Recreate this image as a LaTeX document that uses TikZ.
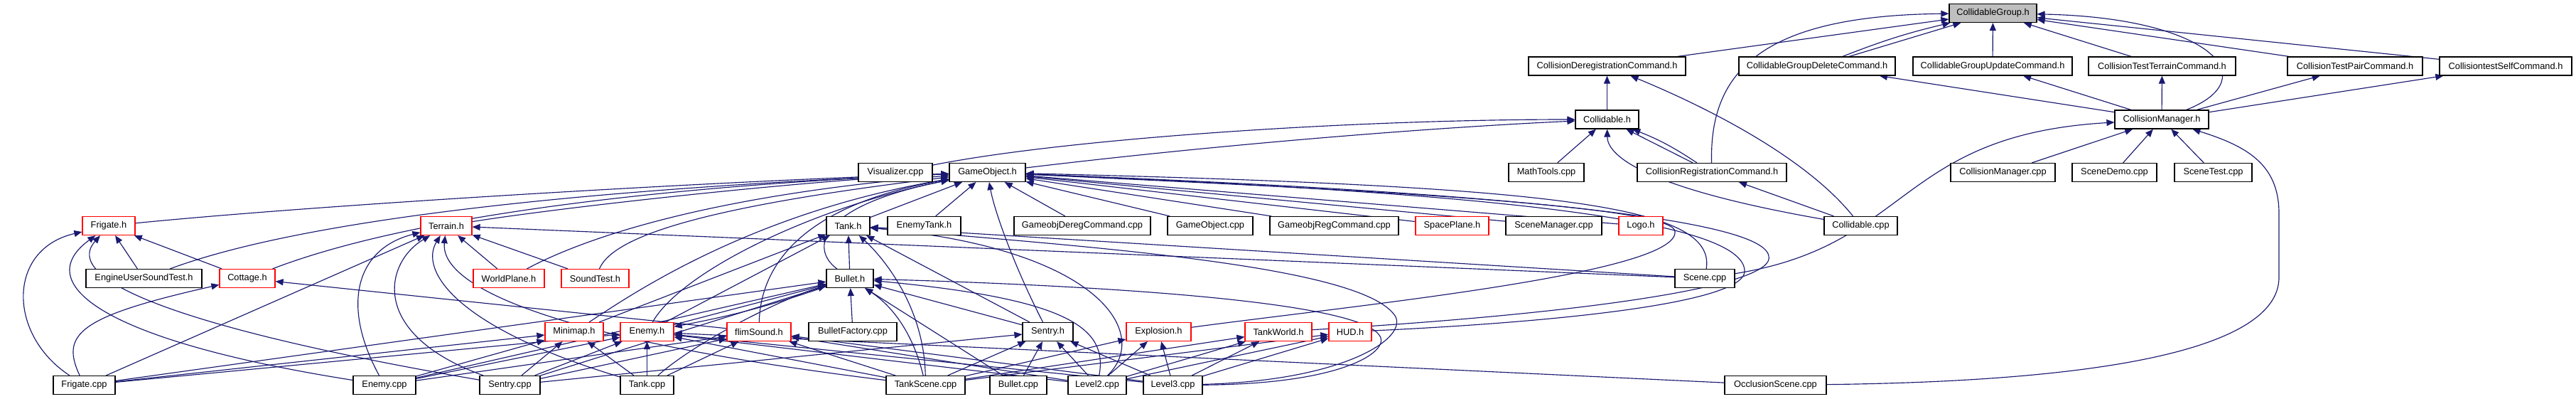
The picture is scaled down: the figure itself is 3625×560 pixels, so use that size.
\documentclass[tikz,border=0pt]{standalone}
\usepackage{fontspec}
\setmainfont{Liberation Sans}
\usetikzlibrary{arrows.meta,backgrounds}
\definecolor{edgecol}{HTML}{191970}
\definecolor{rootfill}{HTML}{BFBFBF}
\tikzset{
  box/.style={draw=black, line width=1.2pt, fill=white, minimum height=26pt, inner sep=0pt,
    font=\fontsize{12.8}{14}\selectfont},
  redbox/.style={box, draw=red},
  rootbox/.style={box, fill=rootfill},
  dep/.style={draw=edgecol, line width=1.15pt, -{Triangle[length=11pt,width=9pt]}},
}
\begin{document}
\begin{tikzpicture}[x=1pt,y=-1pt]
\useasboundingbox (0,0) rectangle (3625,560);
% rank 0
\node[rootbox, minimum width=123] (CG) at (2804.5,18.5) {CollidableGroup.h};
% rank 1
\node[box, minimum width=221] (CDC) at (2261.5,93) {CollisionDeregistrationCommand.h};
\node[box, minimum width=220] (CGDC) at (2557,93) {CollidableGroupDeleteCommand.h};
\node[box, minimum width=224] (CGUC) at (2804,93) {CollidableGroupUpdateCommand.h};
\node[box, minimum width=207] (CTTC) at (3042.5,93) {CollisionTestTerrainCommand.h};
\node[box, minimum width=190] (CTPC) at (3314,93) {CollisionTestPairCommand.h};
\node[box, minimum width=186] (CTSC) at (3526,93) {CollisiontestSelfCommand.h};
% rank 2
\node[box, minimum width=89] (Collidableh) at (2261.5,168) {Collidable.h};
\node[box, minimum width=132] (CMh) at (3042,168) {CollisionManager.h};
% rank 3
\node[box, minimum width=104] (Visualizer) at (1260,242.5) {Visualizer.cpp};
\node[box, minimum width=107] (GOh) at (1389.5,242.5) {GameObject.h};
\node[box, minimum width=106] (MathTools) at (2176,242.5) {MathTools.cpp};
\node[box, minimum width=210] (CRC) at (2409,242.5) {CollisionRegistrationCommand.h};
\node[box, minimum width=147] (CMcpp) at (2818.5,242.5) {CollisionManager.cpp};
\node[box, minimum width=119] (SceneDemo) at (2975.5,242.5) {SceneDemo.cpp};
\node[box, minimum width=109] (SceneTest) at (3114.5,242.5) {SceneTest.cpp};
% rank 4
\node[redbox, minimum width=74] (Frigateh) at (153,317.5) {Frigate.h};
\node[redbox, minimum width=72] (Terrainh) at (628,317.5) {Terrain.h};
\node[box, minimum width=61] (Tankh) at (1193.5,317.5) {Tank.h};
\node[box, minimum width=103] (EnemyTank) at (1300.5,317.5) {EnemyTank.h};
\node[box, minimum width=192] (GDC) at (1523,317.5) {GameobjDeregCommand.cpp};
\node[box, minimum width=120] (GOcpp) at (1703,317.5) {GameObject.cpp};
\node[box, minimum width=181] (GRC) at (1877.5,317.5) {GameobjRegCommand.cpp};
\node[redbox, minimum width=103] (SpacePlane) at (2043.5,317.5) {SpacePlane.h};
\node[box, minimum width=135] (SceneMgr) at (2186.5,317.5) {SceneManager.cpp};
\node[redbox, minimum width=62] (Logo) at (2309,317.5) {Logo.h};
\node[box, minimum width=103] (Collidablecpp) at (2618.5,317.5) {Collidable.cpp};
% rank 5
\node[box, minimum width=163] (EUST) at (202.5,391.5) {EngineUserSoundTest.h};
\node[redbox, minimum width=78] (Cottage) at (348,391.5) {Cottage.h};
\node[redbox, minimum width=100] (WorldPlane) at (716,391.5) {WorldPlane.h};
\node[redbox, minimum width=95] (SoundTest) at (837.5,391.5) {SoundTest.h};
\node[box, minimum width=66] (Bulleth) at (1196,391.5) {Bullet.h};
\node[box, minimum width=84] (Scenecpp) at (2399,391.5) {Scene.cpp};
% rank 6
\node[redbox, minimum width=82] (Minimap) at (808,466.5) {Minimap.h};
\node[redbox, minimum width=75] (Enemyh) at (910.5,466.5) {Enemy.h};
\node[redbox, minimum width=90] (flimSound) at (1068,466.5) {flimSound.h};
\node[box, minimum width=124] (BulletFactory) at (1200,466.5) {BulletFactory.cpp};
\node[box, minimum width=71] (Sentryh) at (1474.5,466.5) {Sentry.h};
\node[redbox, minimum width=91] (Explosion) at (1630.5,466.5) {Explosion.h};
\node[redbox, minimum width=94] (TankWorld) at (1799,466.5) {TankWorld.h};
\node[redbox, minimum width=60] (HUD) at (1900,466.5) {HUD.h};
% rank 7
\node[box, minimum width=87] (Frigatecpp) at (118.5,541.5) {Frigate.cpp};
\node[box, minimum width=88] (Enemycpp) at (541,541.5) {Enemy.cpp};
\node[box, minimum width=85] (Sentrycpp) at (717.5,541.5) {Sentry.cpp};
\node[box, minimum width=75] (Tankcpp) at (910.5,541.5) {Tank.cpp};
\node[box, minimum width=111] (TankScene) at (1302.5,541.5) {TankScene.cpp};
\node[box, minimum width=80] (Bulletcpp) at (1433,541.5) {Bullet.cpp};
\node[box, minimum width=82] (Level2) at (1544,541.5) {Level2.cpp};
\node[box, minimum width=83] (Level3) at (1650.5,541.5) {Level3.cpp};
\node[box, minimum width=143] (Occlusion) at (2498.5,541.5) {OcclusionScene.cpp};

\begin{pgfonlayer}{background}
% ---- top part
\draw[dep] (CDC) -- (CG);
\draw[dep] (CGDC) -- (CG);
\draw[dep] (CGDC) to[bend left=4] (CG);
\draw[dep] (CGUC) -- (CG);
\draw[dep] (CTTC) -- (CG);
\draw[dep] (CTPC) -- (CG);
\draw[dep] (CTSC) -- (CG);
\draw[dep] (CRC) .. controls (2405,100) and (2480,22) .. (CG);
\draw[dep] (CMh) .. controls (3190,110) and (3110,25) .. (CG);
\draw[dep] (Collidableh) -- (CDC);
\draw[dep] (Collidablecpp) .. controls (2540,220) and (2400,150) .. (CDC);
\draw[dep] (CMh) -- (CGDC);
\draw[dep] (CMh) -- (CGUC);
\draw[dep] (CMh) -- (CTTC);
\draw[dep] (CMh) -- (CTPC);
\draw[dep] (CMh) -- (CTSC);
\draw[dep] (GOh) .. controls (1700,205) and (2000,180) .. (Collidableh);
\draw[dep] (Visualizer) .. controls (1500,195) and (1900,168) .. (Collidableh);
\draw[dep] (MathTools) -- (Collidableh);
\draw[dep] (CRC) -- (Collidableh);
\draw[dep] (CRC) to[bend right=6] (Collidableh);
\draw[dep] (Collidablecpp) .. controls (2300,262) and (2262,215) .. (Collidableh);
\draw[dep] (Collidablecpp) -- (CRC);
\draw[dep] (CMcpp) -- (CMh);
\draw[dep] (SceneDemo) -- (CMh);
\draw[dep] (SceneTest) -- (CMh);
\draw[dep] (Scenecpp) .. controls (2690,345) and (2670,190) .. (CMh);
\draw[dep] (Occlusion) .. controls (3050,535) and (3207,470) .. (3207,390) -- (3207,300) .. controls (3207,230) and (3160,205) .. (CMh);
% ---- GameObject.h
\draw[dep] (Frigateh) .. controls (450,288) and (1000,255) .. (GOh);
\draw[dep] (Terrainh) .. controls (800,290) and (1150,252) .. (GOh);
\draw[dep] (Cottage) .. controls (600,295) and (1000,258) .. (GOh);
\draw[dep] (EUST) .. controls (450,300) and (900,262) .. (GOh);
\draw[dep] (WorldPlane) .. controls (850,320) and (1050,270) .. (GOh);
\draw[dep] (SoundTest) .. controls (860,340) and (950,295) .. (GOh);
\draw[dep] (Tankh) -- (GOh);
\draw[dep] (EnemyTank) -- (GOh);
\draw[dep] (GDC) -- (GOh);
\draw[dep] (GOcpp) -- (GOh);
\draw[dep] (GRC) -- (GOh);
\draw[dep] (SpacePlane) -- (GOh);
\draw[dep] (SceneMgr) -- (GOh);
\draw[dep] (Logo) -- (GOh);
\draw[dep] (Bulleth) .. controls (1140,350) and (1150,290) .. (GOh);
\draw[dep] (Enemyh) .. controls (960,380) and (1150,290) .. (GOh);
\draw[dep] (Minimap) .. controls (880,420) and (1050,300) .. (GOh);
\draw[dep] (flimSound) .. controls (1070,380) and (1120,290) .. (GOh);
\draw[dep] (Sentryh) .. controls (1430,380) and (1400,300) .. (GOh);
\draw[dep] (Scenecpp) .. controls (2415,290) and (2200,262) .. (GOh);
\draw[dep] (Explosion) .. controls (1900,430) and (2365,385) .. (2357,325) .. controls (2352,285) and (1800,262) .. (GOh);
\draw[dep] (HUD) .. controls (2250,450) and (2460,420) .. (2455,380) .. controls (2450,300) and (2000,268) .. (GOh);
\draw[dep] (TankWorld) .. controls (2250,440) and (2500,400) .. (2489,360) .. controls (2480,300) and (2000,266) .. (GOh);
% ---- Frigate.h / Cottage.h
\draw[dep] (Frigatecpp) .. controls (10,470) and (10,350) .. (Frigateh);
\draw[dep] (Enemycpp) .. controls (150,480) and (40,400) .. (Frigateh);
\draw[dep] (Sentrycpp) .. controls (300,470) and (80,400) .. (Frigateh);
\draw[dep] (EUST) -- (Frigateh);
\draw[dep] (Cottage) -- (Frigateh);
\draw[dep] (Frigatecpp) .. controls (85,470) and (110,445) .. (Cottage);
\draw[dep] (flimSound) -- (Cottage);
% ---- Terrain.h
\draw[dep] (Frigatecpp) -- (Terrainh);
\draw[dep] (Enemycpp) .. controls (480,430) and (500,350) .. (Terrainh);
\draw[dep] (Sentrycpp) .. controls (520,470) and (540,370) .. (Terrainh);
\draw[dep] (Tankcpp) .. controls (640,460) and (590,380) .. (Terrainh);
\draw[dep] (TankScene) .. controls (720,470) and (620,390) .. (Terrainh);
\draw[dep] (WorldPlane) -- (Terrainh);
\draw[dep] (SoundTest) -- (Terrainh);
\draw[dep] (Scenecpp) -- (Terrainh);
% ---- Tank.h
\draw[dep] (Bulleth) -- (Tankh);
\draw[dep] (Enemyh) -- (Tankh);
\draw[dep] (Minimap) -- (Tankh);
\draw[dep] (Sentryh) -- (Tankh);
\draw[dep] (TankScene) .. controls (1300,420) and (1230,350) .. (Tankh);
\draw[dep] (Level2) .. controls (1620,470) and (1550,350) .. (Tankh);
\draw[dep] (Level3) .. controls (1900,535) and (1990,470) .. (1960,440) .. controls (1900,370) and (1500,345) .. (Tankh);
\draw[dep] (Scenecpp) -- (Tankh);
% ---- Bullet.h
\draw[dep] (BulletFactory) -- (Bulleth);
\draw[dep] (Enemyh) -- (Bulleth);
\draw[dep] (Bulleth) to[bend left=4] (Enemyh);
\draw[dep] (Tankcpp) .. controls (980,480) and (1100,420) .. (Bulleth);
\draw[dep] (TankScene) .. controls (1280,450) and (1240,420) .. (Bulleth);
\draw[dep] (Sentryh) -- (Bulleth);
\draw[dep] (Bulletcpp) -- (Bulleth);
\draw[dep] (Level2) .. controls (1560,460) and (1500,420) .. (Bulleth);
\draw[dep] (Level3) .. controls (1900,540) and (1960,490) .. (1940,470) .. controls (1900,420) and (1500,400) .. (Bulleth);
\draw[dep] (Frigatecpp) -- (Bulleth);
\draw[dep] (Enemycpp) -- (Bulleth);
\draw[dep] (Sentrycpp) -- (Bulleth);
% ---- Minimap.h
\draw[dep] (Enemycpp) -- (Minimap);
\draw[dep] (Sentrycpp) -- (Minimap);
\draw[dep] (Tankcpp) -- (Minimap);
\draw[dep] (Frigatecpp) -- (Minimap);
% ---- Enemy.h
\draw[dep] (Tankcpp) -- (Enemyh);
\draw[dep] (Enemycpp) -- (Enemyh);
\draw[dep] (Sentrycpp) -- (Enemyh);
\draw[dep] (Frigatecpp) -- (Enemyh);
\draw[dep] (TankScene) -- (Enemyh);
\draw[dep] (Level2) -- (Enemyh);
\draw[dep] (Level3) -- (Enemyh);
\draw[dep] (Occlusion) -- (Enemyh);
% ---- flimSound.h
\draw[dep] (Tankcpp) -- (flimSound);
\draw[dep] (TankScene) -- (flimSound);
\draw[dep] (Enemycpp) -- (flimSound);
\draw[dep] (Sentrycpp) -- (flimSound);
\draw[dep] (Level2) -- (flimSound);
\draw[dep] (Level3) -- (flimSound);
% ---- Sentry.h
\draw[dep] (Sentrycpp) -- (Sentryh);
\draw[dep] (TankScene) -- (Sentryh);
\draw[dep] (Bulletcpp) -- (Sentryh);
\draw[dep] (Level2) -- (Sentryh);
\draw[dep] (Level3) -- (Sentryh);
% ---- Explosion.h, TankWorld.h, HUD.h
\draw[dep] (Level2) -- (Explosion);
\draw[dep] (Level3) -- (Explosion);
\draw[dep] (TankScene) -- (Explosion);
\draw[dep] (Level2) -- (TankWorld);
\draw[dep] (Level3) -- (TankWorld);
\draw[dep] (TankScene) -- (TankWorld);
\draw[dep] (Level2) -- (HUD);
\draw[dep] (Level3) -- (HUD);
\draw[dep] (TankScene) -- (HUD);
\end{pgfonlayer}
\end{tikzpicture}
\end{document}
